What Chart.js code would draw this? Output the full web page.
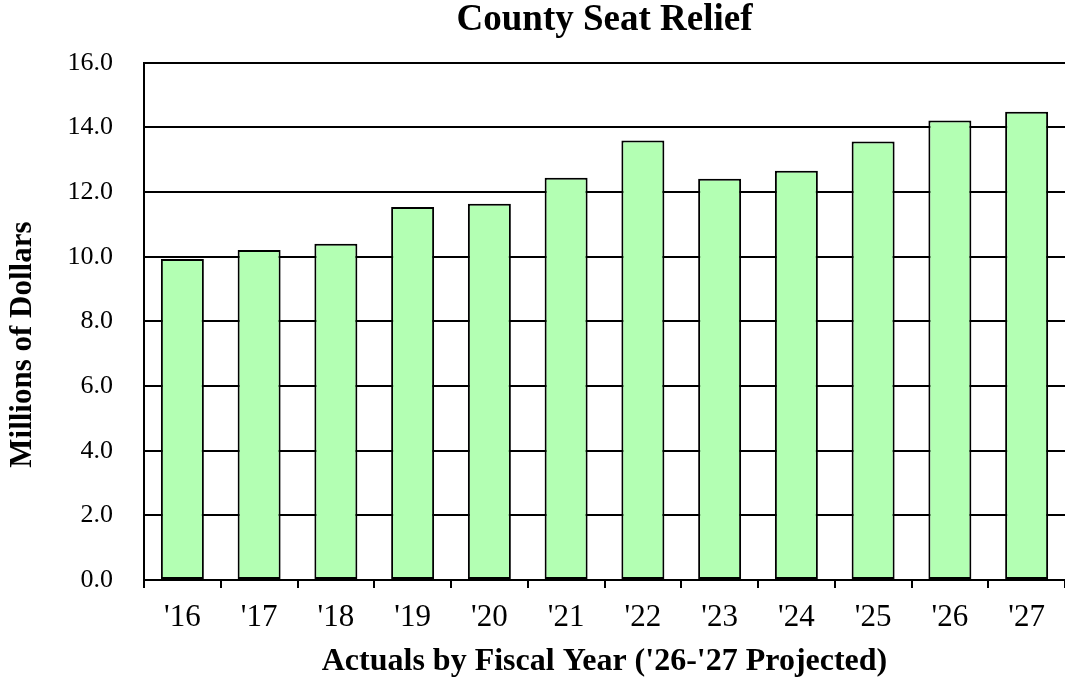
<!DOCTYPE html>
<html>
<head>
<meta charset="utf-8">
<script src="https://cdn.jsdelivr.net/npm/chart.js@4.4.1/dist/chart.umd.min.js"></script>
<style>
    html, body { margin: 0; padding: 0; background: #fff; }
    #wrap { width: 1065px; height: 681px; position: relative; }
</style>
</head>
<body>
<div id="wrap"><canvas id="myChart"></canvas></div>
<script>
const categories = ["'16", "'17", "'18", "'19", "'20", "'21", "'22", "'23", "'24", "'25", "'26", "'27"]
const reliefValues = [9.93, 10.21, 10.40, 11.54, 11.64, 12.44, 13.59, 12.41, 12.66, 13.56, 14.21, 14.48]
const yTickValues = [0, 2, 4, 6, 8, 10, 12, 14, 16]

const serif = 'Liberation Serif'
const ctx = document.getElementById('myChart')

// the y title sits centred on the whole page, not the plot, so pad it with trailing spaces
const yTitle = 'Millions of Dollars' + '\u00a0'.repeat(6)

let chart = new Chart(ctx, {
    type: 'bar',
    data: {
        labels: categories,
        datasets: [{
            label: 'County Seat Relief',
            data: reliefValues,
            backgroundColor: '#b3ffb3',
            borderColor: '#000',
            borderWidth: 2,
            borderSkipped: false,
            barPercentage: 0.56,
            categoryPercentage: 1.0
        }]
    },
    options: {
        animation: false,
        responsive: true,
        maintainAspectRatio: false,
        devicePixelRatio: 1,
        layout: { padding: 0 },
        plugins: {
            legend: { display: false },
            tooltip: { enabled: false },
            title: {
                display: true,
                fullSize: false,
                text: 'County Seat Relief',
                color: '#000',
                font: { family: serif, size: 37, weight: 'bold', lineHeight: 1.1 },
                padding: { top: 0, bottom: 22 }
            }
        },
        scales: {
            x: {
                offset: true,
                border: { display: true, color: '#000', width: 2 },
                grid: {
                    offset: true,
                    drawOnChartArea: false,
                    drawTicks: true,
                    tickLength: 8,
                    tickColor: '#000',
                    tickWidth: 2,
                    color: '#000',
                    lineWidth: 2
                },
                ticks: {
                    color: '#000',
                    padding: 11,
                    maxRotation: 0,
                    font: { family: serif, size: 31 }
                },
                title: {
                    display: true,
                    text: "Actuals by Fiscal Year ('26-'27 Projected)",
                    color: '#000',
                    font: { family: serif, size: 32, weight: 'bold' },
                    padding: { top: 0, bottom: 0 }
                },
                afterFit: (scale) => { scale.height = 101 }
            },
            y: {
                min: 0,
                max: 16,
                border: { display: true, color: '#000', width: 2 },
                grid: {
                    color: '#000',
                    lineWidth: 2,
                    drawTicks: false
                },
                afterBuildTicks: (scale) => {
                    scale.ticks = yTickValues.map(v => ({ value: v }))
                },
                ticks: {
                    color: '#000',
                    padding: 31,
                    font: { family: serif, size: 26 },
                    callback: (v) => Number(v).toFixed(1)
                },
                title: {
                    display: true,
                    text: yTitle,
                    color: '#000',
                    font: { family: serif, size: 31, weight: 'bold' },
                    padding: { top: 4, bottom: 0 }
                },
                afterFit: (scale) => { scale.width = 144 }
            }
        }
    }
})
</script>
</body>
</html>
